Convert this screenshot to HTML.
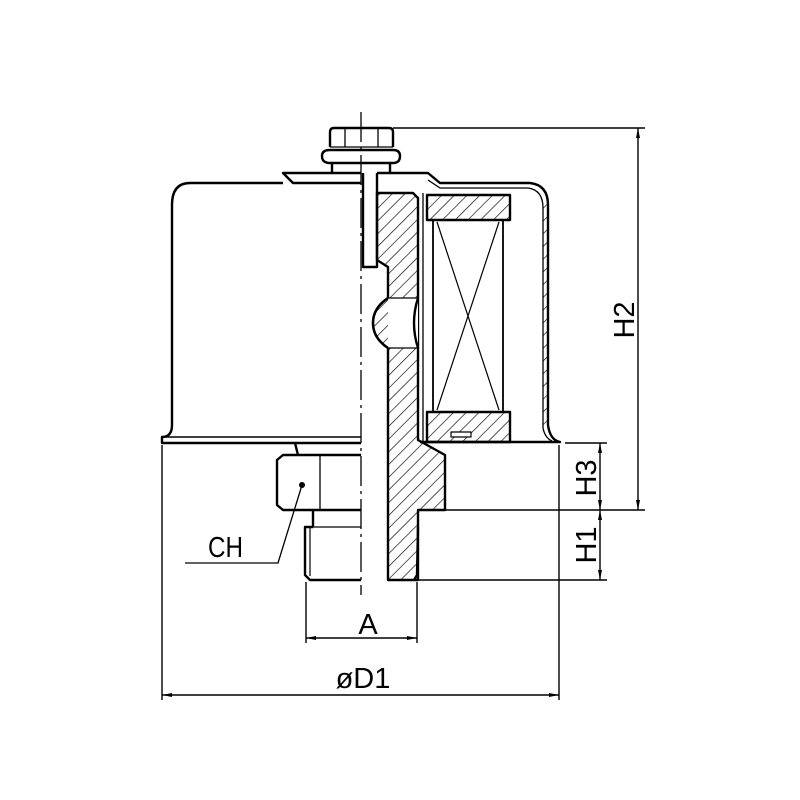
<!DOCTYPE html>
<html><head><meta charset="utf-8"><style>body{margin:0;background:#fff}svg{display:block}</style></head><body>
<svg width="800" height="800" viewBox="0 0 800 800" xmlns="http://www.w3.org/2000/svg">
<defs>
<pattern id="h" width="9" height="9" patternUnits="userSpaceOnUse" patternTransform="rotate(45)">
<line x1="0" y1="0" x2="0" y2="9" stroke="#000" stroke-width="1.3"/>
</pattern>
</defs>
<g fill="none" stroke="#000" stroke-width="2.4" stroke-linejoin="round">
<path d="M361,183 L293,183 L283,173 L361,173"/>
<path d="M283,183 L190,183 Q172,183 172,205 L172,425 Q172,437 162,437 L162,443 L361,443"/>
<line x1="162" y1="437" x2="361" y2="437" stroke-width="1.5"/>
<path d="M377,173 L428,173 L440,183 L530,183 Q548,185 548,205 L548,425 Q550,440 560,442 L420,442"/>
<path d="M428,180 L440,188 L528,188 Q543,190 543,208 L543,428 Q545,438 552,441" stroke-width="1.3"/>
<rect x="543" y="200" width="5" height="225" fill="url(#h)" stroke="none"/>
<path d="M330,147 L330,132 Q330,128 334,128 L389,128 Q393,128 393,132 L393,147"/>
<path d="M330,150 Q322,150 322,156 Q322,163 330,163 L393,163 Q400,163 400,156 Q400,150 393,150 Z"/>
<line x1="345" y1="128" x2="345" y2="147" stroke-width="1.3"/>
<line x1="378" y1="128" x2="378" y2="147" stroke-width="1.3"/>
<line x1="330" y1="147" x2="393" y2="147" stroke-width="1.3"/>
<path d="M332,163 L332,173 M390,163 L390,173"/>
<path d="M363,173 L363,267 L377,267 L377,173"/>
<path d="M377,193 L413,193 L418,198 L418,440 L445,455 L445,510 L418,510 L418,580 L388,580 L388,348 Q373,338 373,323 Q373,308 388,298 L388,267 L377,260 Z" fill="url(#h)"/>
<path d="M388,298 L418,298 L418,348 L388,348" fill="#fff" stroke="none"/>
<path d="M388,298 Q373,308 373,323 Q373,338 388,348 M418,298 Q410,323 418,348" />
<line x1="388" y1="298" x2="418" y2="298" stroke-width="1.3"/>
<line x1="388" y1="348" x2="418" y2="348" stroke-width="1.3"/>
<rect x="427" y="195" width="83" height="25" fill="url(#h)"/>
<rect x="427" y="412" width="83" height="30" fill="url(#h)"/>
<rect x="433" y="220" width="70" height="192" stroke-width="1.8"/>
<path d="M437,222 L499,410 M499,222 L437,410" stroke-width="1.2"/>
<line x1="423" y1="193" x2="423" y2="442" stroke-width="1.3"/>
<rect x="451" y="432" width="20" height="5" fill="#fff" stroke-width="1.2"/>
<path d="M361,455 L283,455 L277,460 L277,505 L283,510 L361,510"/>
<line x1="320" y1="455" x2="320" y2="510" stroke-width="1.3"/>
<path d="M295,443 L298,455 M313,510 L313,527"/>
<path d="M313,527 L305,527 L305,575 L310,580 L361,580"/>
<line x1="310" y1="527" x2="310" y2="576" stroke-width="1.2"/>
<line x1="313" y1="527" x2="361" y2="527" stroke-width="1.2"/>
<path d="M418,527 L417,575 L414,580"/>
</g>
<line x1="361" y1="112" x2="361" y2="595" stroke="#000" stroke-width="1.3" stroke-dasharray="30,5,3,5"/>
<circle cx="302" cy="485" r="3" fill="#000"/>
<polyline points="302,485 278,563 185,563" fill="none" stroke="#000" stroke-width="1.3"/>
<g stroke="#000" stroke-width="1.4" fill="none">
<line x1="393" y1="128" x2="645" y2="128"/>
<line x1="565" y1="443" x2="607" y2="443"/>
<line x1="445" y1="510" x2="645" y2="510"/>
<line x1="417" y1="580" x2="607" y2="580"/>
<line x1="638" y1="128" x2="638" y2="510"/>
<line x1="600" y1="443" x2="600" y2="580"/>
<line x1="162" y1="445" x2="162" y2="700"/>
<line x1="559" y1="445" x2="559" y2="700"/>
<line x1="306" y1="582" x2="306" y2="643"/>
<line x1="417" y1="582" x2="417" y2="643"/>
<line x1="306" y1="638" x2="417" y2="638"/>
<line x1="162" y1="695" x2="559" y2="695"/>
</g>
<g fill="#000">
<path d="M638,128 l-2,10 h4z M638,510 l-2,-10 h4z"/>
<path d="M600,443 l-2,10 h4z M600,510 l-2,-10 h4z M600,510 l-2,10 h4z M600,580 l-2,-10 h4z"/>
<path d="M306,638 l10,-2 v4z M417,638 l-10,-2 v4z"/>
<path d="M162,695 l10,-2 v4z M559,695 l-10,-2 v4z"/>
</g>
<g font-family="'Liberation Sans Narrow','Liberation Sans',sans-serif" font-size="29" fill="#000">
<text x="208" y="557" textLength="35" lengthAdjust="spacingAndGlyphs">CH</text>
<text x="368" y="634" text-anchor="middle">A</text>
<text x="363" y="688" text-anchor="middle">øD1</text>
<text transform="translate(596,478) rotate(-90)" text-anchor="middle">H3</text>
<text transform="translate(596,545) rotate(-90)" text-anchor="middle">H1</text>
<text transform="translate(634,320) rotate(-90)" text-anchor="middle">H2</text>
</g>
</svg>
</body></html>
